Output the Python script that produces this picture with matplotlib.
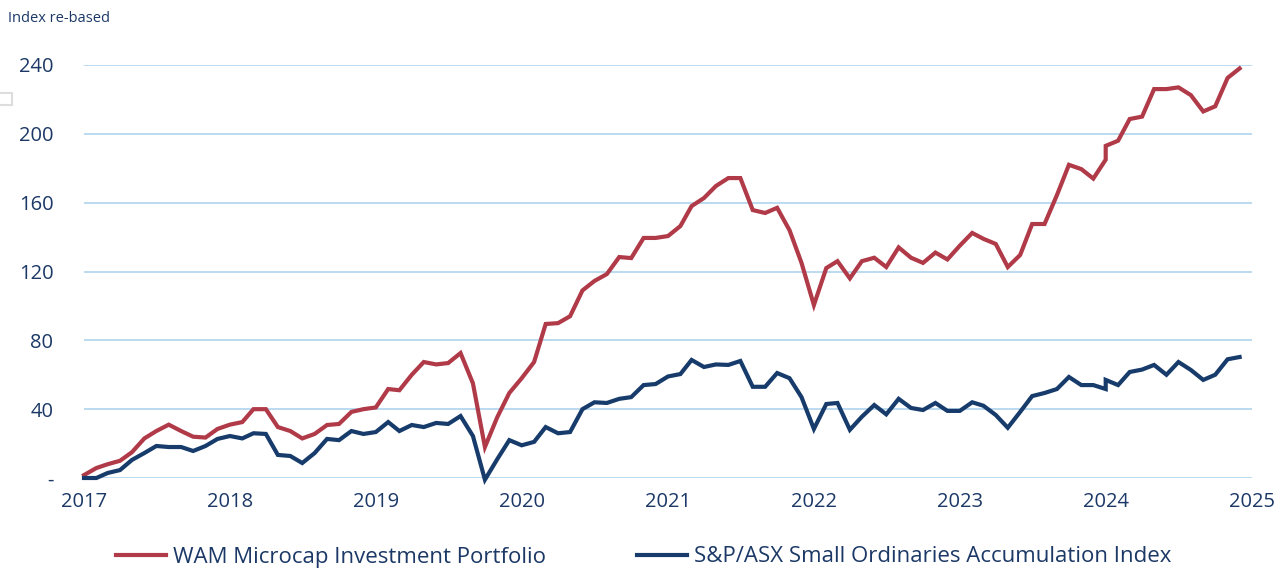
import matplotlib
matplotlib.use("Agg")
import matplotlib.pyplot as plt
import pandas as pd
from matplotlib.patches import Rectangle

# monthly, Jan 2017 - Dec 2024 (Jan 2024 appears twice in the source)
months = list(pd.date_range("2017-01-01", "2024-12-01", freq="MS"))
months.insert(84, months[84])

wam = [
    1.7, 5.8, 8, 10, 15, 23, 27.3, 31, 27.3, 24, 23.5, 28.5,
    31, 32.5, 40, 40, 29.6, 27.3, 23, 25.6, 30.8, 31.4, 38.4, 40,
    41, 51.7, 51, 60, 67.4, 66, 66.8, 72.6, 55, 18, 35.4, 49.4,
    58, 67.4, 89.5, 90, 94, 109, 114.5, 118.5, 128.4, 127.8, 139.5, 139.5,
    140.6, 146.4, 158, 162.7, 169.7, 174.3, 174.3, 155.7, 154, 157, 144, 125,
    100.5, 122, 126, 116, 126, 128, 122.6, 134, 128, 125, 131, 127,
    135, 142.4, 139, 136, 122.6, 129.6, 147.6, 147.6, 164.4, 182, 179.5, 174,
    185, 193, 196, 208.6, 210, 226, 226, 227, 222.5, 213, 216, 232.5, 238,
]
small_ords = [
    0, 0, 2.9, 4.6, 10.5, 14.5, 18.6, 18, 18, 15.7, 18.6, 22.7,
    24.4, 23, 26, 25.6, 13.4, 12.8, 8.7, 14.5, 22.7, 22, 27.3, 25.6,
    26.7, 32.5, 27.3, 30.8, 29.6, 32, 31.4, 36, 24.4, -1, 11, 22,
    19, 21, 29.6, 26, 26.7, 40, 44, 43.6, 46, 47, 54, 54.6,
    59, 60.4, 68.6, 64.5, 66, 65.7, 68, 53, 53, 61, 58, 47,
    28.5, 43, 43.6, 28, 35.6, 42.4, 37, 46, 40.7, 39.5, 43.6, 39,
    39, 44, 42, 36.6, 29.2, 38.4, 47.6, 49.4, 51.7, 58.7, 54, 54,
    51.7, 57, 54, 61.6, 63, 65.7, 60, 67.4, 62.8, 57, 60, 69, 70.3,
]

y_ticks = [0, 40, 80, 120, 160, 200, 240]
y_labels = ["-", "40", "80", "120", "160", "200", "240"]
years = list(range(2017, 2026))

RED = "#B03A48"
NAVY = "#173C6B"
TEXT = "#1B3866"
GRID = "#AFD3EE"

plt.rcParams["font.family"] = ["Open Sans", "DejaVu Sans"]

fig = plt.figure(figsize=(12.87, 5.70), dpi=100)
ax = fig.add_axes([84 / 1287, 1 - 478 / 570, (1252 - 84) / 1287, (478 - 65) / 570])

ax.plot(months, wam, color=RED, lw=3, label="WAM Microcap Investment Portfolio",
        solid_joinstyle="miter", clip_on=False)
ax.plot(months, small_ords, color=NAVY, lw=3,
        label="S&P/ASX Small Ordinaries Accumulation Index",
        solid_joinstyle="miter", clip_on=False)

ax.set_ylim(0, 240)
ax.set_xlim(pd.Timestamp("2017-01-01"), pd.Timestamp("2025-01-01"))
ax.set_yticks(y_ticks)
ax.set_yticklabels(y_labels)
ax.set_xticks([pd.Timestamp(f"{y}-01-01") for y in years])
ax.set_xticklabels([str(y) for y in years])
ax.tick_params(axis="both", length=0, labelsize=14.5, colors=TEXT)
ax.tick_params(axis="y", pad=22)
ax.tick_params(axis="x", pad=10)

ax.grid(axis="y", color=GRID, lw=1.2)
ax.set_axisbelow(True)
for s in ax.spines.values():
    s.set_visible(False)

fig.text(8 / 1287, 1 - 18 / 570, "Index re-based", fontsize=10.5, color=TEXT,
         va="center", ha="left")

# small stray box at the left edge of the original
fig.patches.append(Rectangle((-2 / 1287, 1 - 105 / 570), 14 / 1287, 12 / 570,
                             transform=fig.transFigure, fill=False,
                             edgecolor="#DDDDDD", lw=1.5))

leg = fig.legend(loc="center", bbox_to_anchor=(0.5, 1 - 557 / 570), ncol=2,
                 frameon=False, fontsize=16, handlelength=2.25, columnspacing=4.1,
                 handletextpad=0.3)
for t in leg.get_texts():
    t.set_color(TEXT)

fig.savefig("out.png", dpi=100)
